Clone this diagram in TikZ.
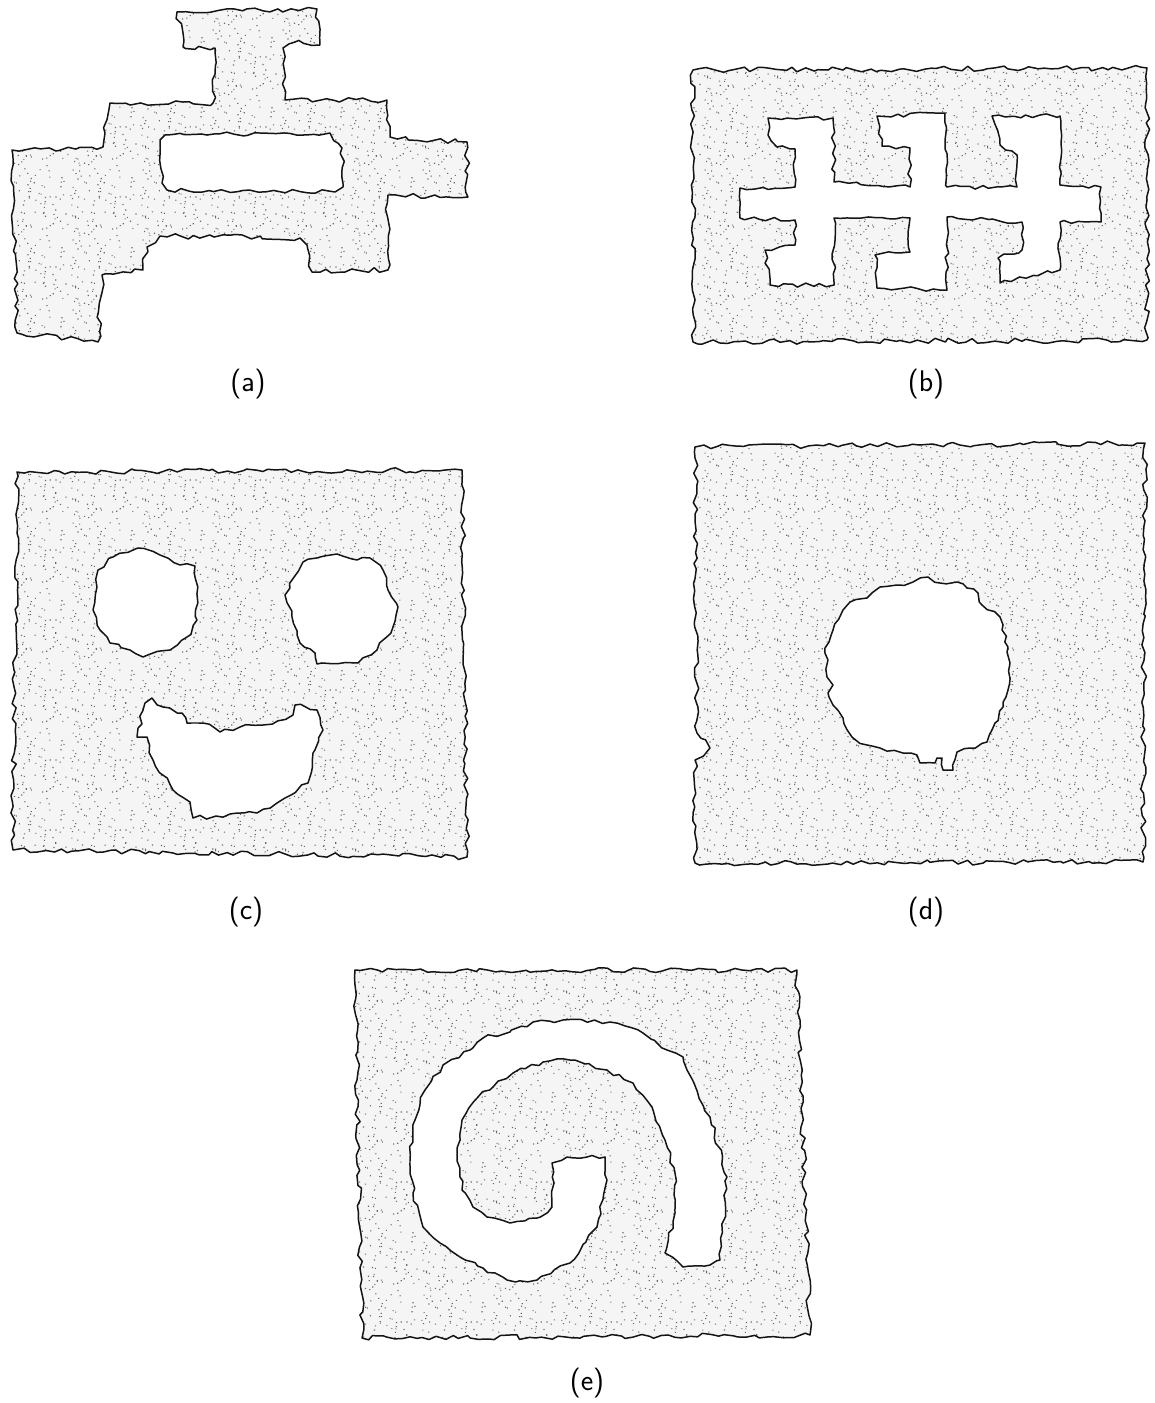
\documentclass[tikz,border=0pt]{standalone}
\usepackage{tikz}
\usetikzlibrary{decorations.pathmorphing,patterns}
\definecolor{tinte}{HTML}{141414}
\definecolor{punkt}{HTML}{6A6A6A}
\definecolor{grund}{HTML}{F5F5F5}
% stipple tile with scattered dots
\pgfdeclarepatternformonly{tupfen}{\pgfpointorigin}{\pgfpoint{40pt}{40pt}}{\pgfpoint{40pt}{40pt}}{%
  \pgfmathsetseed{7}%
  \foreach \i in {1,...,95}{%
    \pgfmathsetmacro{\tx}{rnd*39.3}\pgfmathsetmacro{\ty}{rnd*39.3}%
    \pgfpathrectangle{\pgfpoint{\tx pt}{\ty pt}}{\pgfpoint{0.65pt}{0.65pt}}%
    \pgfusepath{fill}}}
\tikzset{
  zacken/.style={decorate,decoration={random steps,segment length=4pt,amplitude=1.5pt}},
  koerper/.style={zacken,fill=grund},
  stipple/.style={zacken,pattern=tupfen,pattern color=punkt},
  umriss/.style={zacken,draw=tinte,line width=0.85pt,line join=round},
  loch/.style={umriss,fill=white,decoration={amplitude=1.2pt}},
  marke/.style={font=\fontsize{17}{20}\sffamily,inner sep=0pt},
}
% outer outlines (pixel grid, y down)
\def\formA{(177,12) -- (317,9) -- (320,45) -- (295,42) -- (283,48) -- (285,100) -- (387,100)
  -- (390,137) -- (467,142) -- (468,197) -- (388,195) -- (388,270) -- (312,272) -- (307,245)
  -- (300,238) -- (160,236) -- (147,247) -- (143,270) -- (102,275) -- (98,342) -- (17,333)
  -- (12,150) -- (103,147) -- (110,103) -- (213,103) -- (215,48) -- (183,47) -- cycle}
\def\formB{(693,70) -- (1147,68) -- (1147,340) -- (693,342) -- cycle}
\def\formC{(17,472) -- (462,470) -- (467,857) -- (13,850) -- cycle}
\def\formD{(695,447) -- (1145,443) -- (1143,862) -- (695,863) -- (695,760) -- (710,748)
  -- (697,733) -- cycle}
\def\formE{(355,970) -- (797,970) -- (810,1335) -- (362,1338) -- cycle}

\begin{document}
\begin{tikzpicture}[x=0.02cm,y=-0.02cm]
  \useasboundingbox (0,0) rectangle (1155,1403);

  % (a)
  \pgfmathsetseed{11}\fill[koerper] \formA;
  \pgfmathsetseed{11}\fill[stipple] \formA;
  \pgfmathsetseed{11}\draw[umriss] \formA;
  \draw[loch] (160,140) -- (165,135) -- (330,133) -- (342,148) -- (343,187) -- (335,192)
    -- (167,190) -- (162,183) -- cycle;
  \node[marke] (la) at (248,384) {(a)};

  % (b)
  \pgfmathsetseed{12}\fill[koerper] \formB;
  \pgfmathsetseed{12}\fill[stipple] \formB;
  \pgfmathsetseed{12}\draw[umriss] \formB;
  \draw[loch] (740,188) -- (795,187) -- (795,149) -- (777,147) -- (768,135) -- (768,118)
    -- (833,118) -- (834,182) -- (910,187) -- (910,148) -- (882,146) -- (877,116)
    -- (945,113) -- (947,187) -- (1017,187) -- (1017,155) -- (1000,145) -- (992,116)
    -- (1060,116) -- (1060,185) -- (1101,187) -- (1101,222) -- (1060,222) -- (1060,270)
    -- (1000,283) -- (998,258) -- (1022,250) -- (1022,222) -- (947,217) -- (947,290)
    -- (877,288) -- (875,255) -- (910,252) -- (910,218) -- (834,218) -- (834,285)
    -- (770,285) -- (765,250) -- (795,245) -- (795,220) -- (740,218) -- cycle;
  \node[marke] (lb) at (926,384) {(b)};

  % (c)
  \pgfmathsetseed{13}\fill[koerper] \formC;
  \pgfmathsetseed{13}\fill[stipple] \formC;
  \pgfmathsetseed{13}\draw[umriss] \formC;
  \draw[loch] (98,570) -- (113,557) -- (138,548) -- (160,555) -- (180,565) -- (195,566)
    -- (197,620) -- (187,637) -- (170,650) -- (143,657) -- (130,650) -- (110,643)
    -- (100,630) -- (93,610) -- (97,587) -- cycle;
  \draw[loch] (285,595) -- (303,562) -- (320,557) -- (337,554) -- (357,560) -- (370,558)
    -- (383,570) -- (388,590) -- (398,607) -- (393,627) -- (377,650) -- (358,663)
    -- (317,664) -- (315,653) -- (300,643) -- (292,617) -- cycle;
  \draw[loch] (137,737) -- (145,703) -- (152,698) -- (163,707) -- (182,713) -- (187,723)
    -- (203,723) -- (220,732) -- (240,727) -- (263,725) -- (293,715) -- (295,705)
    -- (317,710) -- (323,730) -- (313,753) -- (308,783) -- (277,803) -- (257,813)
    -- (193,818) -- (190,802) -- (173,790) -- (153,760) -- (147,737) -- cycle;
  \node[marke] (lc) at (246,912) {(c)};

  % (d)
  \pgfmathsetseed{14}\fill[koerper] \formD;
  \pgfmathsetseed{14}\fill[stipple] \formD;
  \pgfmathsetseed{14}\draw[umriss] \formD;
  \draw[loch] (825,648) -- (833,630) -- (843,610) -- (850,602) -- (867,598) -- (880,587)
    -- (897,585) -- (913,582) -- (928,577) -- (940,583) -- (957,582) -- (967,588)
    -- (978,593) -- (982,605) -- (1000,617) -- (1002,630) -- (1008,647) -- (1010,663)
    -- (1008,690) -- (1003,707) -- (995,723) -- (987,742) -- (970,748) -- (957,752)
    -- (953,770) -- (943,770) -- (942,758) -- (937,758) -- (935,763) -- (920,763)
    -- (917,755) -- (903,753) -- (880,748) -- (867,745) -- (852,737) -- (843,718)
    -- (833,705) -- (828,693) -- (833,685) -- (827,677) -- (828,660) -- cycle;
  \node[marke] (ld) at (926,912) {(d)};

  % (e)
  \pgfmathsetseed{15}\fill[koerper] \formE;
  \pgfmathsetseed{15}\fill[stipple] \formE;
  \pgfmathsetseed{15}\draw[umriss] \formE;
  \draw[loch] (727,1177) -- (710,1117) -- (687,1070) -- (683,1057) -- (667,1050)
    -- (643,1033) -- (610,1022) -- (563,1020) -- (533,1022) -- (510,1032) -- (483,1038)
    -- (470,1050) -- (443,1065) -- (425,1090) -- (415,1120) -- (410,1160) -- (413,1193)
    -- (423,1227) -- (440,1243) -- (460,1257) -- (483,1268) -- (507,1280) -- (537,1280)
    -- (570,1263) -- (597,1227) -- (607,1180) -- (605,1157) -- (587,1157) -- (567,1157)
    -- (552,1163) -- (552,1207) -- (537,1218) -- (510,1223) -- (487,1217) -- (473,1207)
    -- (462,1190) -- (457,1153) -- (462,1120) -- (478,1097) -- (493,1087) -- (513,1073)
    -- (543,1062) -- (570,1060) -- (607,1070) -- (633,1083) -- (652,1107) -- (665,1140)
    -- (675,1173) -- (675,1213) -- (665,1253) -- (683,1267) -- (710,1265) -- (720,1260)
    -- cycle;
  \node[marke] (le) at (587,1383) {(e)};
\end{tikzpicture}
\end{document}
